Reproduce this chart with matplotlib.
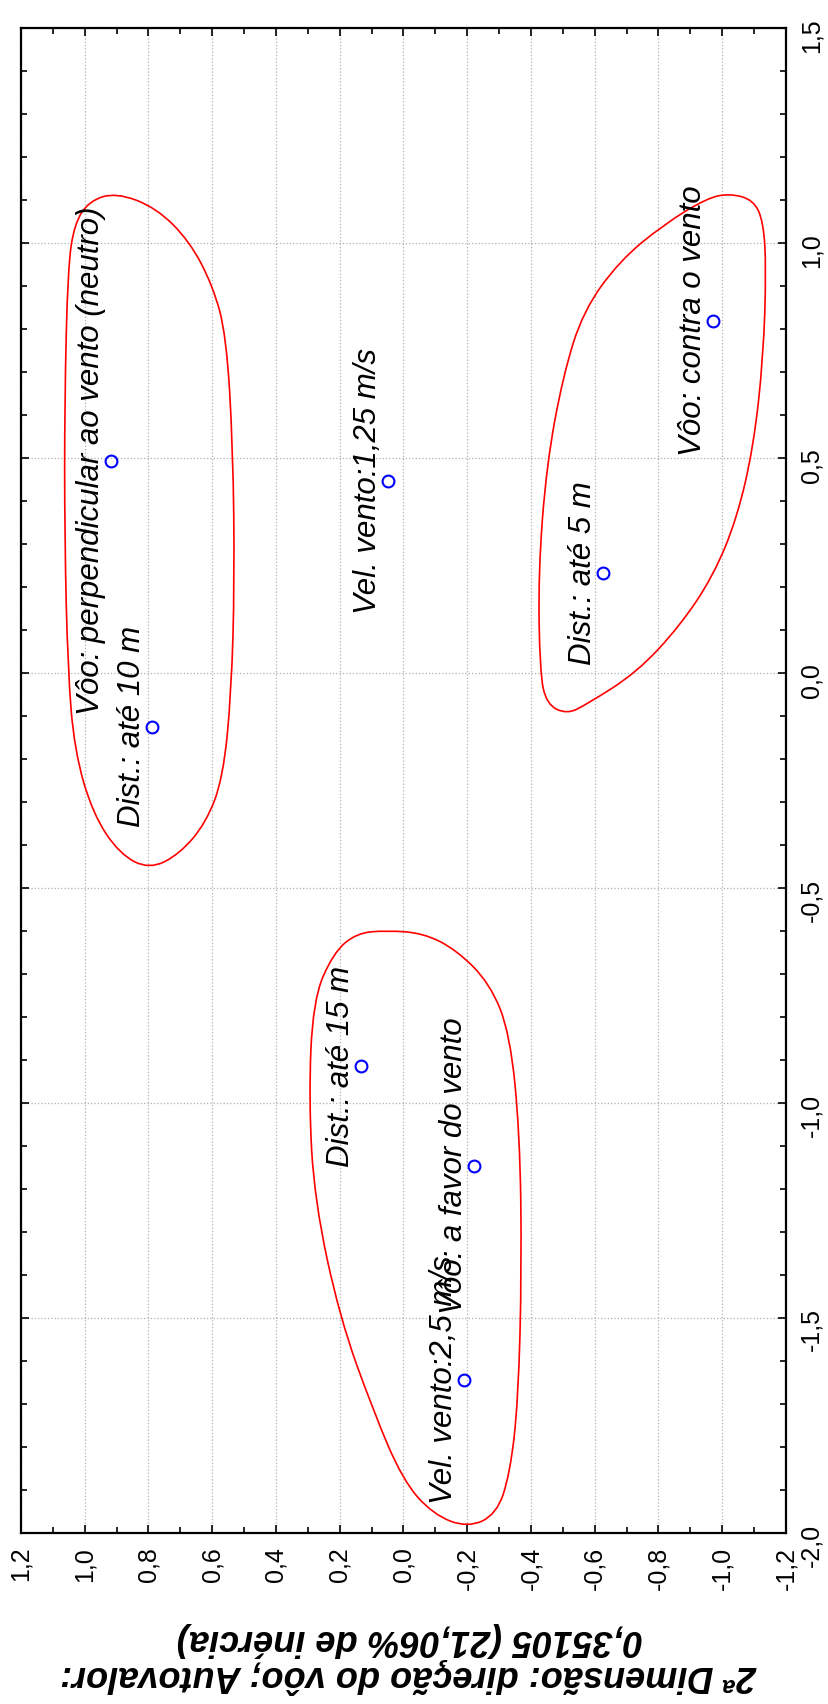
import numpy as np
import matplotlib
matplotlib.use('Agg')
import matplotlib.pyplot as plt
from matplotlib.path import Path
from matplotlib.patches import PathPatch
from matplotlib.ticker import MultipleLocator, FuncFormatter

plt.rcParams['font.family'] = ['Liberation Sans', 'DejaVu Sans']

# category points: dim1 = 1a dimensao (vertical here), dim2 = 2a dimensao
labels = ['Vôo: perpendicular ao vento (neutro)', 'Dist.: até 10 m',
          'Vel. vento:1,25 m/s', 'Dist.: até 5 m', 'Vôo: contra o vento',
          'Dist.: até 15 m', 'Vôo: a favor do vento', 'Vel. vento:2,5 m/s']
dim2 = [0.917, 0.788, 0.048, -0.625, -0.972, 0.134, -0.221, -0.190]
dim1 = [0.493, -0.125, 0.447, 0.232, 0.819, -0.914, -1.147, -1.644]

# outlines of the groups (dim2, dim1)
curve1_d2 = [0.901, 0.985, 1.032, 1.053, 1.063, 1.063, 1.053, 1.032, 0.975, 0.891, 0.797,
             0.702, 0.619, 0.566, 0.540, 0.530, 0.535, 0.556, 0.598, 0.671, 0.776]
curve1_d1 = [1.117, 1.098, 1.046, 0.942, 0.630, 0.318, 0.006, -0.181, -0.327, -0.421, -0.457,
             -0.421, -0.348, -0.244, -0.046, 0.214, 0.526, 0.786, 0.900, 1.004, 1.082]

curve2_d2 = [-1.024, -1.098, -1.129, -1.138, -1.129, -1.098, -1.046, -0.972, -0.868, -0.732, -0.575,
             -0.512, -0.449, -0.428, -0.423, -0.449, -0.501, -0.564, -0.679, -0.815, -0.951]
curve2_d1 = [1.115, 1.100, 1.050, 0.942, 0.734, 0.526, 0.359, 0.226, 0.110, 0.001, -0.073,
             -0.096, -0.073, 0.001, 0.234, 0.484, 0.692, 0.842, 0.959, 1.042, 1.104]

curve3_d2 = [0.053, 0.148, 0.221, 0.284, 0.297, 0.279, 0.200, 0.095, 0.001, -0.093,
             -0.201, -0.292, -0.334, -0.360, -0.371, -0.365, -0.334, -0.271, -0.166, -0.062]
curve3_d1 = [-0.599, -0.605, -0.652, -0.761, -0.994, -1.227, -1.499, -1.716, -1.879, -1.957,
             -1.988, -1.957, -1.863, -1.693, -1.382, -1.071, -0.838, -0.722, -0.644, -0.605]

ylabel = '2ª Dimensão: direção do vôo; Autovalor:\n0,35105 (21,06% de inércia)'


def closed_path(xs, ys):
    # smooth closed outline, quadratic bezier through the midpoints
    pts = np.column_stack([xs, ys])
    mids = (pts + np.roll(pts, -1, axis=0)) / 2
    verts = [mids[-1]]
    codes = [Path.MOVETO]
    for p, m in zip(pts, mids):
        verts += [p, m]
        codes += [Path.CURVE3, Path.CURVE3]
    return Path(verts, codes)


def fmt(v, pos):
    s = f'{v:.1f}'.replace('.', ',')
    if s == '-0,0':
        s = '0,0'
    return s


fig = plt.figure(figsize=(8.29, 17.04), dpi=100)
ax = fig.add_axes([0.0253, 0.1004, 0.9228, 0.8832])

for cx, cy in [(curve1_d2, curve1_d1), (curve2_d2, curve2_d1), (curve3_d2, curve3_d1)]:
    ax.add_patch(PathPatch(closed_path(cx, cy), fill=False, edgecolor='red', lw=1.2, zorder=3))

ax.plot(dim2, dim1, 'o', mfc='none', mec='blue', ms=8.5, mew=1.5, zorder=4)

for lab, b, a in zip(labels, dim2, dim1):
    ax.annotate(lab, (b, a), xytext=(-8.5, 0), textcoords='offset points',
                rotation=90, rotation_mode='anchor', ha='center', va='baseline',
                fontsize=22.5, fontstyle='italic', zorder=5)

ax.set_xlim(1.2, -1.2)
ax.set_ylim(-2.0, 1.5)
ax.xaxis.set_major_locator(MultipleLocator(0.2))
ax.xaxis.set_minor_locator(MultipleLocator(0.1))
ax.yaxis.set_major_locator(MultipleLocator(0.5))
ax.yaxis.set_minor_locator(MultipleLocator(0.1))
ax.xaxis.set_major_formatter(FuncFormatter(fmt))
ax.yaxis.set_major_formatter(FuncFormatter(fmt))

ax.grid(True, which='major', linestyle=':', color='#b0b0b0', linewidth=0.9)
ax.tick_params(which='both', direction='in', top=True, bottom=True, left=True, right=True,
               labelleft=False, labelright=True, width=1.2)
ax.tick_params(which='major', length=6)
ax.tick_params(which='minor', length=4)
ax.tick_params(axis='both', which='major', labelsize=18, pad=10, labelrotation=90)
for sp in ax.spines.values():
    sp.set_linewidth(1.6)

fig.text(0.494, 0.027, ylabel, rotation=180, ha='center', va='center', fontsize=26,
         fontweight='bold', fontstyle='italic', multialignment='center', linespacing=1.05)

fig.savefig('out.png', dpi=100)
